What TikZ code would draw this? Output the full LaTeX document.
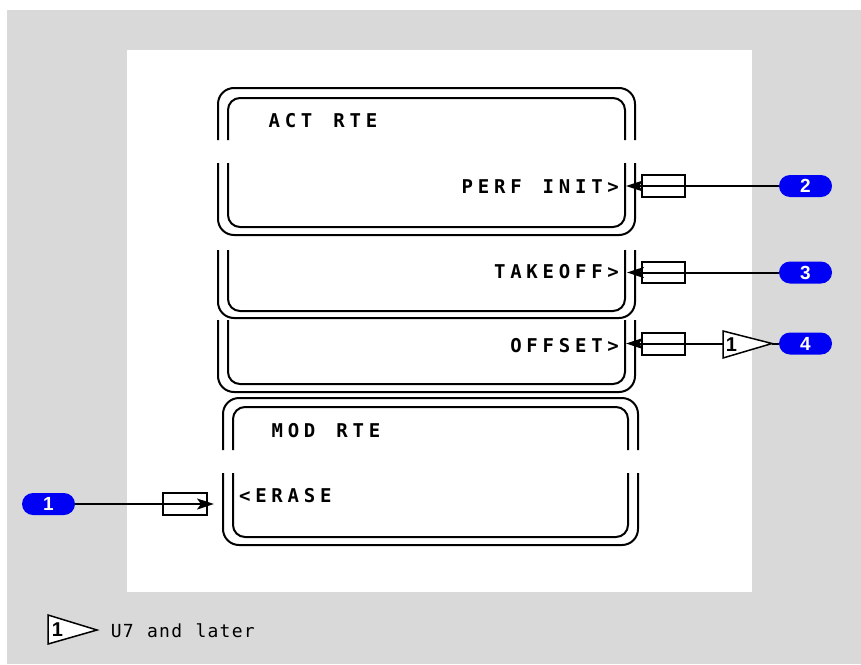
\documentclass[tikz,border=0pt]{standalone}
\usepackage{fontspec}
\setmainfont{Liberation Sans}
\newfontfamily\cdufont{DejaVu Sans Mono}
\newfontfamily\badgefont{Liberation Sans}
\usetikzlibrary{arrows.meta}
\definecolor{bggray}{RGB}{217,217,217}
\definecolor{badgeblue}{RGB}{0,0,245}
\newlength\cdup
\def\cdu#1{\cduloop#1\relax}
\def\cduloop#1{\ifx\relax#1\else\makebox[\cdup][c]{#1}\expandafter\cduloop\fi}
\tikzset{
  frameline/.style={line width=2pt},
  outerframe/.style={frameline, rounded corners=16pt},
  innerframe/.style={frameline, rounded corners=12pt},
  cdutext/.style={inner sep=0pt, font=\cdufont\bfseries\fontsize{19}{20}\selectfont\setlength\cdup{16.2pt}},
  legendtext/.style={inner sep=0pt, font=\cdufont\fontsize{18}{20}\selectfont\setlength\cdup{12.1pt}},
  badge/.style={fill=badgeblue, text=white, rounded corners=11pt, minimum width=53pt, minimum height=22pt, inner sep=0pt, font=\badgefont\bfseries\fontsize{19}{19}\selectfont},
  keybox/.style={draw, line width=1.8pt, fill=white, minimum width=43pt, minimum height=22pt, inner sep=0pt},
  conn/.style={line width=2pt},
  arrowconn/.style={conn, -{Stealth[length=17pt,width=11pt,inset=4pt]}},
  flag/.style={draw, line width=1.5pt, fill=white},
  flagnum/.style={inner sep=0pt, font=\badgefont\bfseries\fontsize{20}{20}\selectfont},
}
\begin{document}
\begin{tikzpicture}[x=1pt,y=-1pt]
\useasboundingbox (0,0) rectangle (861,664);
\fill[white] (0,0) rectangle (861,664);
\fill[bggray] (7,10) rectangle (861,664);
\fill[white] (127,50) rectangle (752,592);

% Box 1: ACT RTE
\draw[outerframe] (218,140) |- (635,88) -- (635,140);
\draw[outerframe] (218,163) |- (635,235) -- (635,163);
\draw[innerframe] (228,140) |- (625,98) -- (625,140);
\draw[innerframe] (228,163) |- (625,227) -- (625,163);
% Box 2: TAKEOFF
\draw[outerframe] (218,250) |- (635,318) -- (635,250);
\draw[innerframe] (228,250) |- (625,311) -- (625,250);
% Box 3: OFFSET
\draw[outerframe] (218,320) |- (635,392) -- (635,320);
\draw[innerframe] (228,320) |- (625,384) -- (625,320);
% Box 4: MOD RTE
\draw[outerframe] (223,450) |- (638,398) -- (638,450);
\draw[outerframe] (223,473) |- (638,545) -- (638,473);
\draw[innerframe] (233,450) |- (628,407) -- (628,450);
\draw[innerframe] (233,473) |- (628,537) -- (628,473);

% Texts
\node[cdutext, anchor=base west] (actrte) at (266,127) {\cdu{ACT~RTE}};
\node[cdutext, anchor=base east] (perfinit) at (621.5,193) {\cdu{PERF~INIT>}};
\node[cdutext, anchor=base east] (takeoff) at (621.5,278) {\cdu{TAKEOFF>}};
\node[cdutext, anchor=base east] (offset) at (621.5,352) {\cdu{OFFSET>}};
\node[cdutext, anchor=base west] (modrte) at (269,437) {\cdu{MOD~RTE}};
\node[cdutext, anchor=base west] (erase) at (236.5,502) {\cdu{<ERASE}};

% Key boxes
\node[keybox] (r2) at (663.5,186) {};
\node[keybox, minimum height=21pt] (r3) at (663.5,272.5) {};
\node[keybox] (r4) at (663.5,344) {};
\node[keybox, minimum width=44pt] (r1) at (185,504) {};

% Badges
\node[badge] (b2) at (805.5,186) {2};
\node[badge] (b3) at (805.5,272.5) {3};
\node[badge] (b4) at (805.5,343.5) {4};
\node[badge] (b1) at (48.5,504) {1};

% Arrow tips
\coordinate (p2) at (626,186);
\coordinate (p3) at (627,272.5);
\coordinate (p4) at (626,343.5);
\coordinate (p1) at (214,504);

% Flag on OFFSET line
\coordinate (f4l) at (723,343.5);
\coordinate (f4t) at (772,343.5);
\draw[flag] (723,331) -- (f4t) -- (723,358) -- cycle;
\node[flagnum] (f4n) at (731.5,345) {1};

% Connectors
\draw[arrowconn] (b2.west) -- (p2);
\draw[arrowconn] (b3.west) -- (p3);
\draw[conn] (f4t) -- (b4.west);
\draw[arrowconn] (f4l) -- (p4);
\draw[arrowconn] (b1.east) -- (p1);

% Legend
\draw[flag] (48,615) -- (97,630) -- (48,644) -- cycle;
\node[flagnum] (lf) at (57.5,629.5) {1};
\node[legendtext, anchor=base west] (legend) at (110,637) {\cdu{U7~and~later}};
\end{tikzpicture}
\end{document}
